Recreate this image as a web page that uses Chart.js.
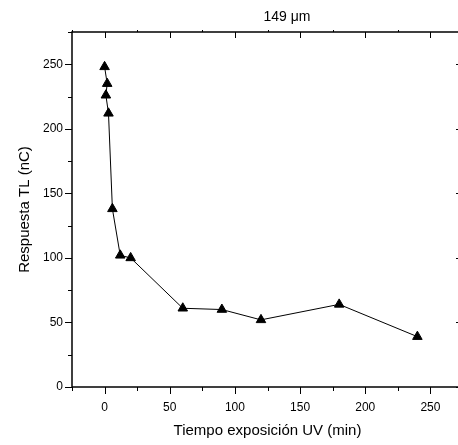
<!DOCTYPE html>
<html>
<head>
<meta charset="utf-8">
<script src="https://cdn.jsdelivr.net/npm/chart.js@4"></script>
<style>
  html, body { margin: 0; padding: 0; background: #fff; overflow: hidden; }
  #wrap { width: 475px; height: 445px; }
</style>
</head>
<body>
<div id="wrap"><canvas id="c" width="475" height="445"></canvas></div>
<script>
// Exposure time (min) and TL response (nC)
const tiempos = [0, 2, 1, 3, 6, 12, 20, 60, 90, 120, 180, 240];
const respuesta = [248, 235, 226, 212, 138, 102, 100, 61, 60, 52, 64, 39];

// Tick values
const xMajor = [0, 50, 100, 150, 200, 250];
const xMinor = [-25, 25, 75, 125, 175, 225, 275];
const yMajor = [0, 50, 100, 150, 200, 250];
const yMinor = [25, 75, 125, 175, 225, 275];

const tituloSuperior = '149 \u03bcm';
const FONT = '"Liberation Sans", Arial, sans-serif';

// Boxed frame with Origin-style tick marks
const axisFrame = {
  id: 'axisFrame',
  afterDraw(chart) {
    const { ctx, chartArea: a, scales: { x, y } } = chart;
    ctx.save();
    ctx.strokeStyle = '#000';
    ctx.lineWidth = 1.5;
    ctx.strokeRect(a.left, a.top, a.right - a.left, a.bottom - a.top);
    ctx.lineWidth = 1;
    ctx.beginPath();
    xMajor.forEach(v => {
      const px = Math.round(x.getPixelForValue(v)) + 0.5;
      ctx.moveTo(px, a.bottom); ctx.lineTo(px, a.bottom + 7);
      ctx.moveTo(px, a.top); ctx.lineTo(px, a.top + 6);
    });
    xMinor.forEach(v => {
      const px = Math.round(x.getPixelForValue(v)) + 0.5;
      ctx.moveTo(px, a.bottom); ctx.lineTo(px, a.bottom + 4);
      ctx.moveTo(px, a.top); ctx.lineTo(px, a.top - 2);
    });
    yMajor.forEach(v => {
      const py = Math.round(y.getPixelForValue(v)) + 0.5;
      ctx.moveTo(a.left, py); ctx.lineTo(a.left - 7, py);
      ctx.moveTo(a.right, py); ctx.lineTo(a.right - 7, py);
    });
    yMinor.forEach(v => {
      const py = Math.round(y.getPixelForValue(v)) + 0.5;
      ctx.moveTo(a.left, py); ctx.lineTo(a.left - 4, py);
      ctx.moveTo(a.right, py); ctx.lineTo(a.right - 3, py);
    });
    ctx.stroke();

    ctx.fillStyle = '#000';
    ctx.font = '14px ' + FONT;
    ctx.textAlign = 'center';
    ctx.textBaseline = 'middle';
    ctx.fillText(tituloSuperior, 287, 17);
    ctx.restore();
  }
};

new Chart(document.getElementById('c'), {
  type: 'scatter',
  data: {
    datasets: [{
      data: tiempos.map((t, i) => ({ x: t, y: respuesta[i] })),
      showLine: true,
      borderColor: '#000',
      borderWidth: 1,
      backgroundColor: '#000',
      pointStyle: 'triangle',
      pointRadius: 5.5,
      pointHoverRadius: 5.5,
      pointBorderWidth: 1,
      pointBackgroundColor: '#000',
      pointBorderColor: '#000'
    }]
  },
  options: {
    responsive: false,
    animation: false,
    events: [],
    layout: { padding: { top: 32, right: 12, left: 0, bottom: 0 } },
    plugins: { legend: { display: false }, tooltip: { enabled: false } },
    scales: {
      x: {
        type: 'linear',
        min: -25,
        max: 275,
        border: { display: false },
        grid: { display: false, drawTicks: false },
        afterBuildTicks: s => { s.ticks = xMajor.map(v => ({ value: v })); },
        afterFit: s => { s.height = 58; },
        ticks: { color: '#000', padding: 13, maxRotation: 0, font: { family: FONT, size: 12 } },
        title: {
          display: true,
          text: 'Tiempo exposición UV (min)',
          color: '#000',
          padding: { top: 0, bottom: 5 },
          font: { family: FONT, size: 15 }
        }
      },
      y: {
        type: 'linear',
        min: 0,
        max: 275,
        border: { display: false },
        grid: { display: false, drawTicks: false },
        afterBuildTicks: s => { s.ticks = yMajor.map(v => ({ value: v })); },
        afterFit: s => { s.width = 72; },
        ticks: { color: '#000', padding: 9, font: { family: FONT, size: 12 } },
        title: {
          display: true,
          text: 'Respuesta TL (nC)',
          color: '#000',
          padding: { top: 16, bottom: 0 },
          font: { family: FONT, size: 15 }
        }
      }
    }
  },
  plugins: [axisFrame]
});
</script>
</body>
</html>
